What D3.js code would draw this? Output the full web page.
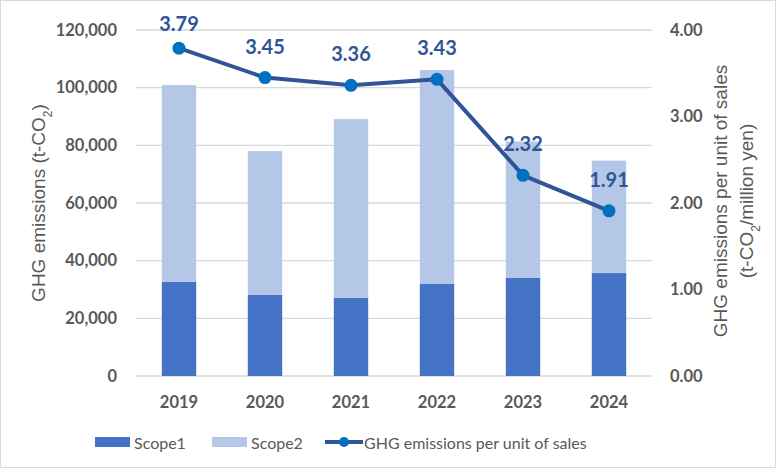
<!DOCTYPE html>
<html>
<head>
<meta charset="utf-8">
<script src="https://cdn.jsdelivr.net/npm/d3@7"></script>
<style>
  body { margin: 0; background: #fff; }
  svg { display: block; }
</style>
</head>
<body>
<div id="chart"></div>
<script>
// chart values
const years = ["2019", "2020", "2021", "2022", "2023", "2024"];
const scope1 = [32600, 28100, 27100, 31900, 34000, 35700];
const scope2 = [68300, 49900, 62000, 74200, 47300, 39000];
const intensity = [3.79, 3.45, 3.36, 3.43, 2.32, 1.91];
const leftTicks = [0, 20000, 40000, 60000, 80000, 100000, 120000];
const rightTicks = [0, 1, 2, 3, 4];

const W = 776, H = 468;
const margin = { top: 30, right: 124, bottom: 92, left: 136 };
const width = W - margin.left - margin.right;
const height = H - margin.top - margin.bottom;

const calibri = "Lato, 'Open Sans', sans-serif";
const arial = "'Liberation Sans', Arial, sans-serif";
const grey = "#595959";

const svg = d3.select("#chart")
  .append("svg")
  .attr("width", W)
  .attr("height", H);

// outer border
svg.append("rect")
  .attr("x", 0.5).attr("y", 0.5)
  .attr("width", W - 1).attr("height", H - 1)
  .attr("fill", "#fff")
  .attr("stroke", "#D9D9D9");

const g = svg.append("g")
  .attr("transform", `translate(${margin.left}, ${margin.top})`);

// scales
const x = d3.scaleBand()
  .domain(years)
  .range([0, width])
  .paddingInner(0.6)
  .paddingOuter(0.3);

const y = d3.scaleLinear()
  .domain([0, 120000])
  .range([height, 0]);

const yR = d3.scaleLinear()
  .domain([0, 4])
  .range([height, 0]);

// gridlines
g.selectAll(".grid")
  .data(leftTicks)
  .enter()
  .append("line")
  .attr("x1", 0)
  .attr("x2", width)
  .attr("y1", d => y(d))
  .attr("y2", d => y(d))
  .attr("stroke", "#D9D9D9")
  .attr("stroke-width", 1.3);

// axis label styling
const tickStyle = sel => sel
  .style("font-family", calibri)
  .style("font-size", "16.5px")
  .style("font-weight", "bold")
  .attr("fill", grey);

// left axis
const leftAxis = g.append("g")
  .call(d3.axisLeft(y).tickValues(leftTicks).tickSize(0).tickPadding(19)
    .tickFormat(d3.format(",")));
leftAxis.select(".domain").remove();
leftAxis.selectAll("text").call(tickStyle);

// right axis
const rightAxis = g.append("g")
  .attr("transform", `translate(${width}, 0)`)
  .call(d3.axisRight(yR).tickValues(rightTicks).tickSize(0).tickPadding(18)
    .tickFormat(d3.format(".2f")));
rightAxis.select(".domain").remove();
rightAxis.selectAll("text").call(tickStyle);

// x axis
const xAxis = g.append("g")
  .attr("transform", `translate(0, ${height})`)
  .call(d3.axisBottom(x).tickSize(0).tickPadding(20));
xAxis.select(".domain").remove();
xAxis.selectAll("text").call(tickStyle);

// stacked bars
const stackData = years.map((yr, i) => ({ year: yr, scope1: scope1[i], scope2: scope2[i] }));
const series = d3.stack().keys(["scope1", "scope2"])(stackData);
const colors = { scope1: "#4472C4", scope2: "#B4C7E7" };

g.selectAll(".series")
  .data(series)
  .enter()
  .append("g")
  .attr("fill", d => colors[d.key])
  .selectAll("rect")
  .data(d => d)
  .enter()
  .append("rect")
  .attr("x", d => x(d.data.year))
  .attr("y", d => y(d[1]))
  .attr("width", x.bandwidth())
  .attr("height", d => y(d[0]) - y(d[1]));

// intensity line
const cx = d => x(d) + x.bandwidth() / 2;
const line = d3.line()
  .x((d, i) => cx(years[i]))
  .y(d => yR(d));

g.append("path")
  .datum(intensity)
  .attr("fill", "none")
  .attr("stroke", "#2F5597")
  .attr("stroke-width", 4)
  .attr("stroke-linejoin", "round")
  .attr("d", line);

g.selectAll(".dot")
  .data(intensity)
  .enter()
  .append("circle")
  .attr("cx", (d, i) => cx(years[i]))
  .attr("cy", d => yR(d))
  .attr("r", 6.5)
  .attr("fill", "#0070C0");

// value labels above points, kept inside the plot top
g.selectAll(".val")
  .data(intensity)
  .enter()
  .append("text")
  .attr("x", (d, i) => cx(years[i]))
  .attr("y", d => Math.max(yR(d) - 24, 1))
  .attr("text-anchor", "middle")
  .style("font-family", calibri)
  .style("font-size", "20px")
  .style("font-weight", "bold")
  .attr("fill", "#2F5597")
  .text(d => d.toFixed(2));

// axis titles
const leftTitle = svg.append("text")
  .attr("transform", `translate(45, ${margin.top + height / 2}) rotate(-90)`)
  .attr("text-anchor", "middle")
  .style("font-family", arial)
  .style("font-size", "19px")
  .attr("fill", grey);
leftTitle.append("tspan").text("GHG emissions (t-CO");
leftTitle.append("tspan").attr("baseline-shift", "sub").style("font-size", "12px").text("2");
leftTitle.append("tspan").attr("baseline-shift", "baseline").text(")");

const rightTitle = svg.append("text")
  .attr("transform", `translate(727, ${margin.top + height / 2 - 2}) rotate(-90)`)
  .attr("text-anchor", "middle")
  .style("font-family", arial)
  .style("font-size", "19px")
  .attr("fill", grey);
rightTitle.append("tspan").attr("x", 0).attr("dy", 0).text("GHG emissions per unit of sales");
const line2 = rightTitle.append("tspan").attr("x", 0).attr("dy", 26);
line2.append("tspan").text("(t-CO");
line2.append("tspan").attr("baseline-shift", "sub").style("font-size", "12px").text("2");
line2.append("tspan").attr("baseline-shift", "baseline").text("/million yen)");

// legend
const legend = svg.append("g").attr("transform", "translate(0, 442)");
const legendFont = s => s
  .style("font-family", calibri)
  .style("font-size", "16px")
  .attr("fill", grey)
  .attr("dominant-baseline", "central");

legend.append("rect").attr("x", 95).attr("y", -5).attr("width", 35).attr("height", 10).attr("fill", colors.scope1);
legend.append("text").attr("x", 134).attr("y", 0).text("Scope1").call(legendFont);
legend.append("rect").attr("x", 212).attr("y", -5).attr("width", 35).attr("height", 10).attr("fill", colors.scope2);
legend.append("text").attr("x", 251).attr("y", 0).text("Scope2").call(legendFont);
legend.append("line").attr("x1", 325).attr("x2", 363).attr("y1", 0).attr("y2", 0)
  .attr("stroke", "#2F5597").attr("stroke-width", 4);
legend.append("circle").attr("cx", 344).attr("cy", 0).attr("r", 5).attr("fill", "#0070C0");
legend.append("text").attr("x", 364).attr("y", 0).text("GHG emissions per unit of sales").call(legendFont);
</script>
</body>
</html>
